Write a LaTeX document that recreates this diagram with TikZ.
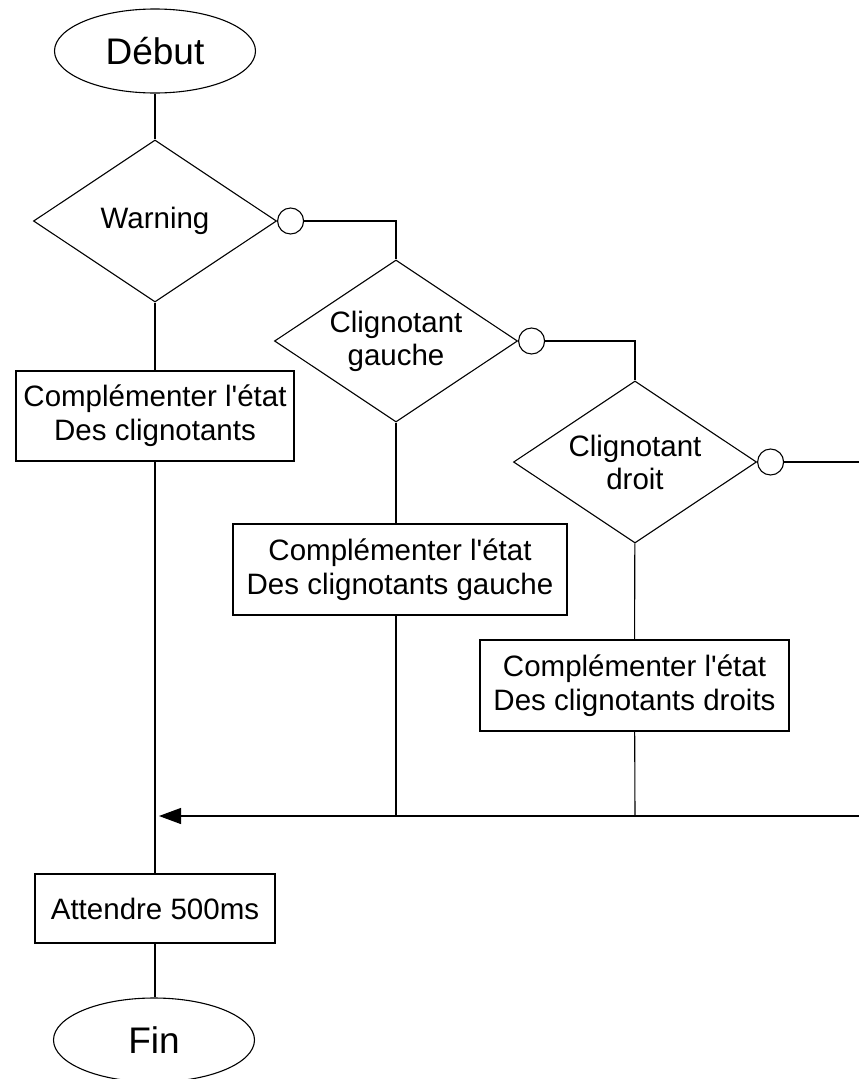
\documentclass[tikz,border=0pt]{standalone}
\usepackage{fontspec}
\setmainfont{Liberation Sans}
\usetikzlibrary{arrows.meta,positioning,calc,shapes.geometric}

\begin{document}
\begin{tikzpicture}[x=1pt, y=-1pt, line width=1.1pt,
  term/.style={draw, ellipse, minimum width=201pt, minimum height=84pt, inner sep=0pt, font=\fontsize{37}{42}\selectfont},
  cond/.style={draw, diamond, aspect=1.5, minimum width=243pt, minimum height=162pt, inner sep=0pt, align=center, font=\fontsize{29.5}{33}\selectfont},
  act/.style={draw, rectangle, inner sep=0pt, align=center, font=\fontsize{29.5}{34}\selectfont},
  neg/.style={draw, circle, fill=white, minimum size=26pt, inner sep=0pt},
  >={Triangle[length=22pt,width=16pt]}]
  \useasboundingbox (0,0) rectangle (859,1079);
  \node[term] (debut) at (155,51) {Début};
  \node[cond] (warn) at (155,221) {Warning};
  \node[neg, right=0pt of warn] (wn) {};
  \node[cond] (gauche) at (396,341) {Clignotant\\gauche};
  \node[neg, right=0pt of gauche] (gn) {};
  \node[cond] (droit) at (635,462) {Clignotant\\droit};
  \node[neg, right=0pt of droit] (dn) {};
  \node[act, minimum width=278pt, minimum height=90pt] (cmp) at (155,416) {Complémenter l\textquotesingle état\\Des clignotants};
  \node[act, minimum width=334pt, minimum height=91pt] (cmpg) at (400,569.5) {Complémenter l\textquotesingle état\\Des clignotants gauche};
  \node[act, minimum width=309pt, minimum height=91pt] (cmpd) at (634.5,685.5) {Complémenter l\textquotesingle état\\Des clignotants droits};
  \node[act, minimum width=240pt, minimum height=69pt] (wait) at (155,908.5) {Attendre 500ms};
  \node[term] (fin) at (154,1040) {Fin};
  \coordinate (dout) at (859,462);
  \coordinate (back) at (859,816);
  \coordinate (merge) at (159,816);
  \draw (debut) -- (warn);
  \draw (warn) -- (cmp);
  \draw (cmp) -- (wait);
  \draw (wait) -- (wait |- fin.north);
  \draw (wn) -| (gauche);
  \draw (gn) -| (droit);
  \draw (dn) -- (dout);
  \draw (gauche) -- (gauche |- cmpg.north);
  \draw (gauche |- cmpg.south) -- (gauche |- back);
  \draw (droit) -- (cmpd);
  \draw (cmpd) -- (droit |- back);
  \draw[->] (back) -- (merge);
\end{tikzpicture}
\end{document}
